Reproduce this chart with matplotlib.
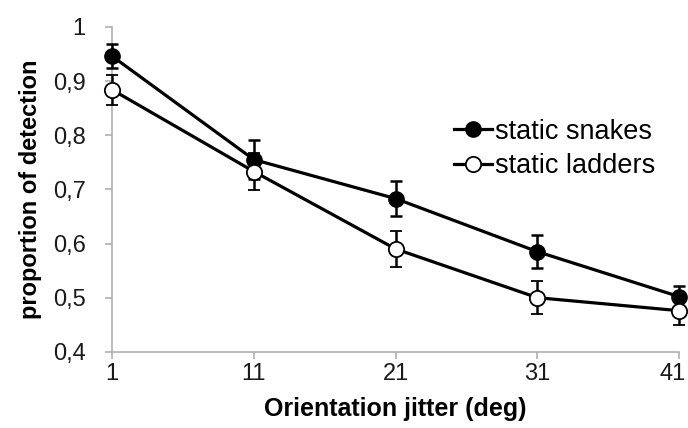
import numpy as np
import matplotlib.pyplot as plt
from matplotlib.transforms import ScaledTranslation

plt.rcParams['font.family'] = ['Liberation Sans', 'DejaVu Sans']

jitter = ['1', '11', '21', '31', '41']
snakes = [0.946, 0.755, 0.683, 0.585, 0.502]
snakes_err = [0.022, 0.036, 0.033, 0.03, 0.019]
ladders = [0.884, 0.733, 0.590, 0.500, 0.476]
ladders_err = [0.028, 0.035, 0.033, 0.03, 0.026]

fig = plt.figure(figsize=(6.88, 4.28), dpi=100)
ax = fig.add_axes([0.163, 0.178, 0.824, 0.759])

x = np.arange(len(jitter))
ax.errorbar(x, snakes, yerr=snakes_err, color='black', lw=2.3, marker='o',
            ms=11, mfc='black', mec='black', capsize=4, elinewidth=1.8,
            capthick=1.8, clip_on=False, zorder=3, label='static snakes')
ax.errorbar(x, ladders, yerr=ladders_err, color='black', lw=2.3, marker='o',
            ms=11, mfc='white', mec='black', mew=1.3, capsize=4, elinewidth=1.8,
            capthick=1.8, clip_on=False, zorder=3, label='static ladders')

ax.set_xlim(0, 4)
ax.set_ylim(0.4, 1.0)
ax.set_xticks(x)
ax.set_xticklabels(jitter)
yt = np.arange(0.4, 1.01, 0.1)
ax.set_yticks(yt)
ax.set_yticklabels([('%.1f' % v).replace('.', ',').replace('1,0', '1') for v in yt])
for s in ['top', 'right']:
    ax.spines[s].set_visible(False)
for s in ['left', 'bottom']:
    ax.spines[s].set_color('#b0b0b0')
    ax.spines[s].set_linewidth(1.2)
ax.tick_params(axis='both', colors='#b0b0b0', labelcolor='#1a1a1a',
               labelsize=17, length=5, width=1.2)
ax.tick_params(axis='x', pad=3)
ax.tick_params(axis='y', pad=14)
# last x label sits against the figure edge
last = ax.get_xticklabels()[-1]
last.set_transform(last.get_transform() + ScaledTranslation(-6 / 100, 0, fig.dpi_scale_trans))

ax.set_xlabel('Orientation jitter (deg)', fontsize=18, fontweight='bold', labelpad=9)
ax.set_ylabel('proportion of detection', fontsize=17, fontweight='bold', labelpad=8)

handles, labels = ax.get_legend_handles_labels()
handles = [h[0] for h in handles]
ax.legend(handles, labels, loc='center left', bbox_to_anchor=(0.66, 0.652),
          bbox_transform=fig.transFigure, frameon=False, fontsize=19.5,
          handlelength=1.4, handletextpad=0.1, labelspacing=0.3,
          borderaxespad=0, borderpad=0)

fig.savefig('out.png', dpi=100)
